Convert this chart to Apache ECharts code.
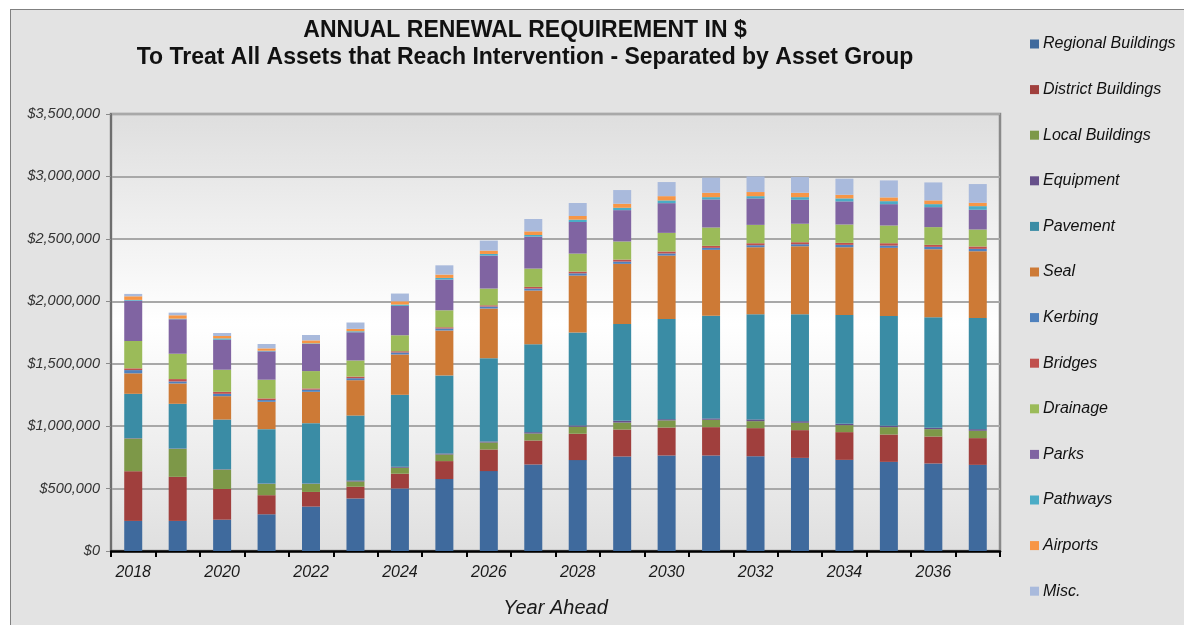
<!DOCTYPE html>
<html>
<head>
<meta charset="utf-8">
<style>
  html, body { margin: 0; padding: 0; background: #fff; }
  #frame {
    position: absolute; left: 10px; top: 9px; right: 0; bottom: 0;
    background: #e3e3e3; border-top: 1px solid #808080; border-left: 1px solid #808080;
  }
  #main { position: absolute; left: 0; top: 0; width: 1184px; height: 625px; }
</style>
<script src="https://cdn.jsdelivr.net/npm/echarts@6/dist/echarts.min.js"></script>
</head>
<body>
<div id="frame"></div>
<div id="main"></div>
<script>
// values in thousands of dollars
const years = ['2018', '2019', '2020', '2021', '2022', '2023', '2024', '2025', '2026', '2027',
  '2028', '2029', '2030', '2031', '2032', '2033', '2034', '2035', '2036', '2037']

const regionalBuildings = [241, 241, 251, 294, 356, 421, 501, 576, 640, 693, 728, 757, 765, 765, 759, 746, 730, 714, 701, 690]
const districtBuildings = [398, 353, 246, 153, 117, 94, 118, 144, 173, 192, 211, 216, 224, 227, 225, 222, 222, 219, 216, 214]
const localBuildings = [262, 224, 155, 90, 64, 42, 48, 53, 56, 56, 56, 56, 57, 59, 56, 59, 56, 59, 59, 59]
const equipment = [3, 3, 3, 3, 3, 8, 8, 8, 8, 11, 11, 14, 10, 11, 14, 13, 11, 11, 11, 13]
const pavement = [355, 358, 398, 436, 484, 520, 576, 625, 667, 704, 744, 775, 802, 823, 842, 856, 872, 880, 885, 890]
const seal = [164, 163, 187, 219, 251, 283, 323, 360, 398, 430, 456, 482, 508, 527, 537, 545, 542, 545, 545, 535]
const kerbing = [26, 16, 19, 14, 17, 16, 16, 16, 16, 16, 18, 18, 17, 16, 16, 16, 19, 18, 19, 19]
const bridges = [14, 19, 16, 13, 10, 13, 10, 10, 10, 13, 14, 16, 16, 16, 16, 16, 16, 19, 16, 19]
const drainage = [219, 203, 177, 150, 139, 129, 128, 136, 134, 147, 144, 145, 149, 147, 147, 148, 147, 142, 142, 136]
const parks = [323, 276, 240, 227, 217, 226, 235, 246, 264, 256, 253, 251, 238, 225, 212, 192, 185, 171, 160, 158]
const pathways = [6, 5, 11, 5, 5, 8, 11, 13, 13, 13, 19, 19, 22, 18, 18, 21, 24, 24, 24, 29]
const airports = [29, 27, 19, 19, 24, 19, 26, 27, 27, 29, 29, 32, 34, 35, 33, 35, 29, 30, 30, 27]
const misc = [19, 21, 24, 35, 43, 51, 62, 74, 80, 99, 104, 110, 113, 121, 125, 126, 129, 136, 144, 150]

const yTicks = [0, 500000, 1000000, 1500000, 2000000, 2500000, 3000000, 3500000]

const groups = [
  { name: 'Regional Buildings', data: regionalBuildings, color: '#3f6a9d' },
  { name: 'District Buildings', data: districtBuildings, color: '#a03f3d' },
  { name: 'Local Buildings', data: localBuildings, color: '#7d9848' },
  { name: 'Equipment', data: equipment, color: '#66508a' },
  { name: 'Pavement', data: pavement, color: '#3a8ca5' },
  { name: 'Seal', data: seal, color: '#cd7a36' },
  { name: 'Kerbing', data: kerbing, color: '#4f81bd' },
  { name: 'Bridges', data: bridges, color: '#c0504d' },
  { name: 'Drainage', data: drainage, color: '#9bbb59' },
  { name: 'Parks', data: parks, color: '#8064a2' },
  { name: 'Pathways', data: pathways, color: '#4bacc6' },
  { name: 'Airports', data: airports, color: '#f79646' },
  { name: 'Misc.', data: misc, color: '#a9badc' }
]

const chart = echarts.init(document.getElementById('main'), null, { renderer: 'canvas' })

const series = groups.map(g => {
  return {
    type: 'bar',
    name: g.name,
    stack: 'total',
    barWidth: 18,
    data: g.data.map(v => v * 1000),
    itemStyle: { color: g.color },
    emphasis: { disabled: true }
  }
})

chart.setOption({
  backgroundColor: 'transparent',
  animation: false,
  textStyle: { fontFamily: 'Liberation Sans, Arial, sans-serif' },
  title: {
    text: 'ANNUAL RENEWAL REQUIREMENT IN $\nTo Treat All Assets that Reach Intervention - Separated by Asset Group',
    left: 520,
    top: 12,
    textAlign: 'center',
    textStyle: {
      fontSize: 23,
      fontWeight: 'bold',
      color: '#111',
      lineHeight: 27
    }
  },
  legend: {
    orient: 'vertical',
    left: 1030,
    top: 35,
    padding: 0,
    itemWidth: 9,
    itemHeight: 9,
    itemGap: 27.6,
    icon: 'rect',
    selectedMode: false,
    textStyle: {
      fontSize: 16,
      fontStyle: 'italic',
      color: '#111',
      lineHeight: 18,
      padding: [0, 0, 0, -1]
    }
  },
  grid: {
    left: 111,
    top: 114,
    right: 184,
    bottom: 74,
    outerBoundsMode: 'none',
    show: true,
    borderColor: '#8a8a8a',
    borderWidth: 2.5,
    backgroundColor: {
      type: 'linear', x: 0, y: 0, x2: 0, y2: 1,
      colorStops: [
        { offset: 0, color: '#dedede' },
        { offset: 0.48, color: '#ffffff' },
        { offset: 1, color: '#dfdfdf' }
      ]
    }
  },
  xAxis: {
    type: 'category',
    data: years,
    name: 'Year Ahead',
    nameLocation: 'middle',
    nameGap: 47,
    nameTextStyle: { fontSize: 20, fontStyle: 'italic', color: '#1a1a1a' },
    axisLine: { lineStyle: { color: '#000', width: 2.5 } },
    axisTick: { show: true, interval: 0, length: 6, lineStyle: { color: '#000', width: 2 } },
    axisLabel: {
      interval: 1,
      fontSize: 16,
      fontStyle: 'italic',
      color: '#1a1a1a',
      margin: 14
    },
    splitLine: { show: false }
  },
  yAxis: {
    type: 'value',
    min: yTicks[0],
    max: yTicks[yTicks.length - 1],
    interval: 500000,
    axisLine: { show: true, lineStyle: { color: '#6e6e6e', width: 2 } },
    axisTick: { show: true, length: 5, lineStyle: { color: '#8a8a8a', width: 1 } },
    axisLabel: {
      fontSize: 14.5,
      fontStyle: 'italic',
      color: '#333',
      margin: 11,
      formatter: v => '$' + v.toLocaleString('en-US')
    },
    splitLine: { lineStyle: { color: '#a8a8a8', width: 2 } }
  },
  series: series
})
</script>
</body>
</html>
